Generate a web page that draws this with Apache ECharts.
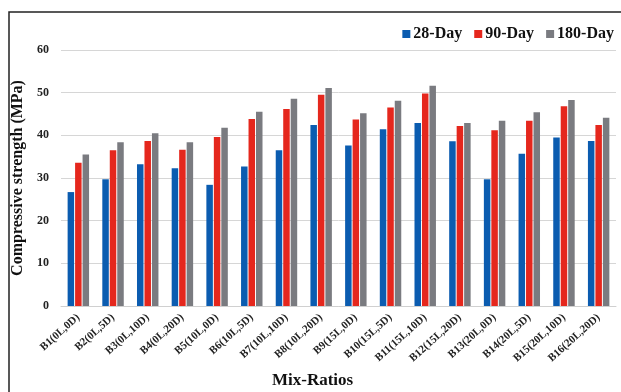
<!DOCTYPE html>
<html>
<head>
<meta charset="utf-8">
<script src="https://cdn.jsdelivr.net/npm/echarts@6/dist/echarts.min.js"></script>
<style>
html,body{margin:0;padding:0;background:#fff;}
#chart{width:621px;height:392px;}
</style>
</head>
<body>
<div id="chart"></div>
<script>
const categories = ["B1(0L,0D)","B2(0L,5D)","B3(0L,10D)","B4(0L,20D)","B5(10L,0D)","B6(10L,5D)","B7(10L,10D)","B8(10L,20D)","B9(15L,0D)","B10(15L,5D)","B11(15L,10D)","B12(15L,20D)","B13(20L,0D)","B14(20L,5D)","B15(20L,10D)","B16(20L,20D)"];
const day28 = [26.7,29.7,33.2,32.3,28.4,32.7,36.5,42.4,37.6,41.4,42.9,38.6,29.7,35.7,39.5,38.7];
const day90 = [33.6,36.5,38.7,36.6,39.6,43.8,46.2,49.5,43.7,46.5,49.8,42.2,41.2,43.4,46.8,42.4];
const day180 = [35.5,38.4,40.5,38.4,41.8,45.5,48.6,51.1,45.2,48.1,51.6,42.9,43.4,45.4,48.3,44.1];
const yTicks = [0,10,20,30,40,50,60];

const serif = '"Liberation Serif","Times New Roman",serif';
const chart = echarts.init(document.getElementById('chart'));
const mk = (name, data, color) => ({
  name, type: 'bar', data, barWidth: 6.5, barGap: '15%',
  itemStyle: { color }
});
chart.setOption({
  animation: false,
  graphic: [{
    type: 'rect', shape: { x: 9, y: 12, width: 640, height: 420 },
    style: { fill: 'none', stroke: '#222', lineWidth: 1.5 }, z: 100
  }, {
    type: 'text', left: 272, top: 372,
    style: { text: 'Mix-Ratios', font: 'bold 17px ' + serif, fill: '#111' }
  }],
  legend: {
    right: 2, top: 21, itemWidth: 8, itemHeight: 8, itemGap: 12,
    icon: 'rect',
    textStyle: { fontFamily: serif, fontWeight: 'bold', fontSize: 16, color: '#111', padding: [0,0,0,-2] },
    data: ['28-Day','90-Day','180-Day']
  },
  grid: { left: 61, right: 5, top: 50, bottom: 86, containLabel: false },
  xAxis: {
    type: 'category', data: categories,
    axisLine: { lineStyle: { color: '#d0d0d0' } },
    axisTick: { show: false },
    axisLabel: { rotate: 42, interval: 0, fontFamily: serif, fontWeight: 'bold', fontSize: 11, color: '#222', margin: 10 }
  },
  yAxis: {
    type: 'value', min: yTicks[0], max: yTicks[yTicks.length-1], interval: 10,
    name: 'Compressive strength (MPa)', nameLocation: 'middle', nameGap: 30,
    nameTextStyle: { fontFamily: serif, fontWeight: 'bold', fontSize: 16, color: '#111' },
    axisLine: { show: false }, axisTick: { show: false },
    axisLabel: { fontFamily: serif, fontWeight: 'bold', fontSize: 12, color: '#222', margin: 12 },
    splitLine: { lineStyle: { color: '#d6d6d6', width: 1 } }
  },
  series: [
    mk('28-Day', day28, '#0b5cb0'),
    mk('90-Day', day90, '#e5271d'),
    mk('180-Day', day180, '#7a7b80')
  ]
});
</script>
</body>
</html>
